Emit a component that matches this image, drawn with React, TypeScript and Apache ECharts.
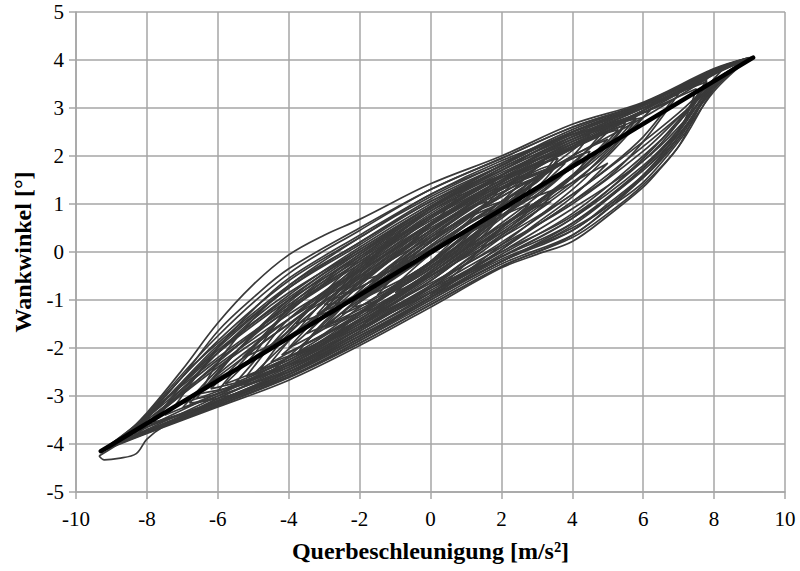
import React, { useEffect, useRef } from "react";
import * as echarts from "echarts";

const xTicks = [-10, -8, -6, -4, -2, 0, 2, 4, 6, 8, 10];
const yTicks = [-5, -4, -3, -2, -1, 0, 1, 2, 3, 4, 5];

const fitLine: number[][] = [[-9.3, -4.15], [9.1, 4.05]];

const loop1 = [[-8.9,-4.02],[-8,-3.35],[-7,-2.45],[-6,-1.48],[-5,-0.68],[-4,-0.06],[-3,0.35],[-2,0.68],[0,1.42],[2,2.0],[4,2.66],[6,3.12],[8,3.82],[9.0,4.05],[8,3.5],[7,2.6],[6,1.9],[4,0.9],[2,0.0],[0,-0.85],[-2,-1.6],[-4,-2.45],[-6,-3.1],[-8,-3.75],[-8.9,-4.02]];
const loop2 = [[-9.1,-4.1],[-8,-3.45],[-6,-2.05],[-4,-0.95],[-2,0.05],[0,0.95],[2,1.75],[4,2.45],[6,3.05],[8,3.78],[9.05,4.05],[8,3.5],[7.5,2.9],[7,2.2],[6.5,1.75],[6,1.35],[5,0.75],[4,0.22],[3,-0.05],[2,-0.33],[0,-1.15],[-2,-1.95],[-4,-2.67],[-6,-3.23],[-8,-3.78],[-9.1,-4.1]];
const loop3 = [[-8.7,-3.95],[-8,-3.4],[-6,-1.85],[-4,-0.6],[-2,0.3],[0,1.2],[2,1.85],[4,2.55],[6,3.1],[8,3.8],[8.95,4.04],[8,3.45],[7,2.35],[6,1.55],[4,0.45],[2,-0.2],[0,-1.0],[-2,-1.8],[-4,-2.55],[-6,-3.15],[-8,-3.72],[-8.7,-3.95]];
const loop4 = [[-9.3,-4.15],[-8,-3.42],[-6,-2.1],[-4,-1.0],[-2,-0.1],[0,0.85],[2,1.6],[4,2.35],[6,3.0],[8,3.75],[9.1,4.05],[8,3.55],[7,2.7],[6,2.0],[4,0.8],[2,-0.05],[0,-0.9],[-2,-1.7],[-4,-2.5],[-6,-3.12],[-8,-3.75],[-9.3,-4.15]];
const loop5 = [[-8.5,-3.85],[-7,-2.7],[-6,-1.95],[-4,-0.75],[-2,0.15],[0,1.05],[2,1.7],[4,2.4],[6,3.05],[8,3.8],[9.0,4.05],[8,3.4],[7,2.45],[6,1.7],[4,0.6],[2,-0.1],[0,-0.75],[-2,-1.5],[-4,-2.35],[-6,-3.05],[-7.5,-3.6],[-8.5,-3.85]];
const loop6 = [[-9.0,-4.05],[-8,-3.5],[-6,-2.35],[-4,-1.3],[-2,-0.4],[0,0.5],[2,1.35],[4,2.15],[6,2.9],[8,3.7],[9.05,4.05],[8,3.55],[7,2.9],[6,2.3],[4,1.2],[2,0.3],[0,-0.5],[-2,-1.3],[-4,-2.2],[-6,-3.0],[-8,-3.7],[-9.0,-4.05]];
const loop7 = [[-8.8,-4.0],[-8,-3.4],[-6,-2.2],[-4,-1.15],[-2,-0.2],[0,0.7],[2,1.5],[4,2.3],[6,2.95],[8,3.72],[9.0,4.04],[8,3.35],[7,2.3],[6,1.45],[5,0.9],[4,0.35],[2,-0.25],[0,-1.05],[-2,-1.85],[-4,-2.6],[-6,-3.2],[-8,-3.76],[-8.8,-4.0]];
const loop8 = [[-8.3,-3.8],[-7,-2.85],[-6,-2.1],[-5,-1.4],[-4,-0.85],[-2,0.05],[0,0.95],[2,1.7],[4,2.5],[6,3.08],[8,3.78],[8.9,4.03],[8,3.5],[7,2.8],[6,2.1],[4,1.0],[2,0.15],[0,-0.65],[-2,-1.45],[-4,-2.3],[-6,-2.95],[-8,-3.65],[-8.3,-3.8]];
const loop9 = [[-9.35,-4.25],[-8.5,-3.85],[-8,-3.55],[-6,-2.4],[-4,-1.4],[-2,-0.5],[0,0.45],[2,1.3],[4,2.2],[6,2.95],[8,3.75],[8.9,4.0],[8,3.45],[6,2.2],[4,1.05],[2,0.1],[0,-0.75],[-2,-1.6],[-4,-2.4],[-6,-3.05],[-7.5,-3.62],[-8.0,-3.9],[-8.3,-4.2],[-8.8,-4.3],[-9.2,-4.33],[-9.35,-4.25]];
const loop10 = [[-4.2,-2.15],[-3,-1.35],[-2,-0.6],[0,0.55],[2,1.45],[3,1.85],[4.15,2.2],[3,1.55],[2,1.0],[0,-0.2],[-2,-1.15],[-3,-1.7],[-4.2,-2.15]];
const loop11 = [[-5.5,-2.72],[-5,-2.3],[-4,-1.4],[-2,-0.3],[0,0.75],[2,1.6],[4,2.25],[5.5,2.65],[5,2.2],[4,1.6],[2,0.5],[0,-0.6],[-2,-1.5],[-4,-2.25],[-5.5,-2.72]];
const loop12 = [[-6.2,-2.85],[-5,-2.0],[-4,-1.25],[-2,-0.1],[0,0.9],[2,1.75],[4,2.4],[6.2,2.95],[5,2.1],[4,1.4],[2,0.35],[0,-0.7],[-2,-1.6],[-4,-2.4],[-6.2,-2.85]];
const loop13 = [[-3.5,-1.7],[-2,-0.65],[0,0.45],[2,1.35],[3.8,1.85],[3,1.3],[2,0.75],[0,-0.35],[-2,-1.2],[-3.5,-1.7]];
const loop14 = [[-2.5,-1.3],[-1.5,-0.55],[0,0.3],[1.5,1.05],[2.8,1.5],[2,0.85],[1,0.35],[0,-0.25],[-1.5,-0.95],[-2.5,-1.3]];
const loop15 = [[-4.8,-2.45],[-4,-1.7],[-2,-0.45],[0,0.6],[2,1.5],[4,2.2],[5,2.5],[4,1.85],[2,0.7],[0,-0.4],[-2,-1.35],[-4,-2.1],[-4.8,-2.45]];
const loop16 = [[-7,-3.25],[-6,-2.45],[-4,-1.05],[-2,0.0],[0,0.95],[2,1.8],[4,2.5],[6,3.0],[7,3.3],[6,2.3],[5,1.55],[4,1.05],[2,0.05],[0,-0.85],[-2,-1.7],[-4,-2.45],[-6,-3.0],[-7,-3.25]];
const loop17 = [[-3,-1.55],[-2,-0.8],[-1,-0.2],[0,0.35],[1,0.85],[2,1.3],[3.3,1.7],[2.5,1.15],[1,0.25],[0,-0.35],[-1,-0.8],[-2,-1.25],[-3,-1.55]];
const loop18 = [[-1.5,-0.9],[-0.5,-0.1],[0.5,0.5],[1.8,0.95],[1,0.3],[0,-0.3],[-1,-0.7],[-1.5,-0.9]];
const loop19 = [[-3.8,-1.5],[-3,-0.9],[-2,-0.25],[0,0.85],[2,1.65],[4.5,2.45],[4,2.0],[3,1.5],[2,0.95],[0,0.0],[-2,-0.95],[-3.8,-1.5]];
const loop20 = [[-4.5,-2.5],[-3,-1.55],[-2,-1.0],[0,-0.05],[2,0.85],[3.5,1.3],[3,0.85],[2,0.3],[0,-0.75],[-2,-1.65],[-3,-2.05],[-4.5,-2.5]];
const loop21 = [[-6.5,-2.95],[-6,-2.3],[-5,-1.4],[-4,-0.7],[-2,0.3],[0,1.15],[2,1.85],[4,2.45],[6,2.8],[5,2.0],[4,1.3],[2,0.15],[0,-0.95],[-2,-1.75],[-4,-2.5],[-6.5,-2.95]];
const loop22 = [[-8,-3.6],[-7,-2.9],[-6,-2.1],[-4,-0.9],[-2,0.1],[0,1.0],[2,1.8],[4,2.5],[6,3.05],[7.8,3.55],[7,2.55],[6,1.75],[4,0.55],[2,-0.2],[0,-0.95],[-2,-1.8],[-4,-2.55],[-6,-3.15],[-8,-3.6]];
const loop23 = [[-7.5,-3.4],[-6,-2.6],[-4,-1.5],[-2,-0.55],[0,0.3],[2,1.15],[4,2.0],[6,2.8],[8.3,3.85],[7.5,3.2],[7,2.75],[6,1.95],[4,0.7],[2,-0.1],[0,-0.85],[-2,-1.6],[-4,-2.35],[-6,-2.95],[-7.5,-3.4]];
const loop24 = [[-2,-1.0],[-1,-0.35],[0,0.2],[1,0.75],[2.2,1.1],[1.5,0.65],[0.5,0.05],[-0.5,-0.45],[-2,-1.0]];
const loop25 = [[-5,-2.55],[-4,-1.85],[-2,-0.65],[0,0.4],[2,1.3],[4.5,2.1],[4,1.55],[2,0.45],[0,-0.5],[-2,-1.4],[-4,-2.25],[-5,-2.55]];
const loop26 = [[-3.2,-1.3],[-2,-0.35],[0,0.75],[2,1.55],[3.6,1.95],[3,1.45],[2,1.05],[0,0.1],[-2,-0.85],[-3.2,-1.3]];
const loop27 = [[-7.2,-3.2],[-6,-2.0],[-5,-1.2],[-4,-0.55],[-2,0.35],[0,1.2],[2,1.9],[4,2.45],[5.8,2.8],[5,2.15],[4,1.55],[2,0.5],[0,-0.5],[-2,-1.45],[-4,-2.3],[-6,-2.9],[-7.2,-3.2]];
const loop28 = [[-6.8,-3.15],[-6,-2.55],[-4,-1.4],[-2,-0.35],[0,0.6],[2,1.45],[4,2.2],[6,2.9],[7.5,3.4],[7,2.5],[6,1.6],[5,0.95],[4,0.5],[2,-0.2],[0,-1.0],[-2,-1.85],[-4,-2.6],[-6,-3.05],[-6.8,-3.15]];
const loop29 = [[-8.6,-3.9],[-8,-3.38],[-6,-1.75],[-4,-0.45],[-2,0.45],[0,1.3],[2,1.95],[4,2.6],[6,3.1],[8,3.8],[9.0,4.04],[8,3.52],[7,2.5],[6,1.75],[4,0.6],[2,-0.2],[0,-0.95],[-2,-1.75],[-4,-2.5],[-6,-3.1],[-8,-3.72],[-8.6,-3.9]];
const loop30 = [[-9.1,-4.08],[-8,-3.45],[-6,-2.25],[-4,-1.2],[-2,-0.25],[0,0.65],[2,1.45],[4,2.25],[6,2.95],[8,3.72],[9.05,4.04],[8,3.48],[7,2.4],[6,1.55],[4,0.35],[2,-0.3],[0,-1.1],[-2,-1.9],[-4,-2.62],[-6,-3.2],[-8,-3.77],[-9.1,-4.08]];
const loop31 = [[-8.4,-3.85],[-7,-2.6],[-6,-1.9],[-4,-0.7],[-2,0.2],[0,1.1],[2,1.8],[4,2.5],[6,3.05],[8,3.77],[8.8,4.0],[8,3.4],[7,2.2],[6,1.4],[5,0.8],[4,0.3],[2,-0.3],[0,-1.1],[-2,-1.9],[-4,-2.6],[-6,-3.18],[-8.4,-3.85]];
const loop32 = [[-9.2,-4.12],[-8,-3.4],[-7,-2.6],[-6,-1.65],[-5,-0.95],[-4,-0.35],[-2,0.5],[0,1.3],[2,1.95],[4,2.6],[6,3.1],[8,3.8],[9.05,4.05],[8,3.5],[7,2.55],[6,1.8],[4,0.7],[2,-0.1],[0,-0.95],[-2,-1.75],[-4,-2.5],[-6,-3.15],[-8,-3.74],[-9.2,-4.12]];
const loop33 = [[-5.2,-2.6],[-4,-1.55],[-2,-0.35],[0,0.7],[2,1.55],[4,2.25],[5.3,2.55],[4.5,1.9],[4,1.55],[2,0.55],[0,-0.5],[-2,-1.45],[-4,-2.2],[-5.2,-2.6]];
const loop34 = [[-4,-2.0],[-3,-1.2],[-2,-0.5],[0,0.6],[2,1.45],[3.5,1.95],[3,1.5],[2,0.95],[0,-0.05],[-2,-1.05],[-3,-1.6],[-4,-2.0]];
const loop35 = [[-3,-1.6],[-2,-0.95],[0,0.1],[2,1.05],[3,1.55],[2.5,1.05],[1,0.25],[0,-0.25],[-2,-1.25],[-3,-1.6]];
const loop36 = [[-2,-0.6],[-1,-0.1],[0,0.55],[1,1.05],[2,1.35],[1.5,0.95],[0.5,0.4],[-1,-0.35],[-2,-0.6]];
const loop37 = [[-1,-0.85],[0,-0.2],[1,0.45],[2,0.8],[1.5,0.35],[0.5,-0.2],[-0.5,-0.65],[-1,-0.85]];
const loop38 = [[-6,-2.9],[-5,-2.05],[-4,-1.5],[-2,-0.4],[0,0.55],[2,1.4],[4,2.15],[5.8,2.75],[5,2.05],[4,1.45],[2,0.4],[0,-0.55],[-2,-1.5],[-4,-2.3],[-6,-2.9]];
const loop39 = [[-3.8,-2.15],[-3,-1.45],[-2,-0.85],[0,0.2],[2,1.15],[4,1.95],[4.3,2.05],[3.5,1.45],[2,0.6],[0,-0.45],[-2,-1.4],[-3.8,-2.15]];
const loop40 = [[-7.8,-3.55],[-7,-2.75],[-6,-2.0],[-4,-0.75],[-2,0.2],[0,1.05],[2,1.8],[4,2.5],[6,3.0],[7.8,3.6],[7,2.7],[6,1.9],[4,0.75],[2,0.0],[0,-0.8],[-2,-1.65],[-4,-2.45],[-6,-3.1],[-7.8,-3.55]];
const loop41 = [[-2.8,-1.0],[-2,-0.4],[-1,0.15],[0,0.7],[1,1.15],[2,1.55],[3.2,1.9],[2.5,1.45],[1,0.75],[0,0.25],[-1,-0.25],[-2,-0.75],[-2.8,-1.0]];
const loop42 = [[-3.5,-2.05],[-2,-1.3],[-1,-0.7],[0,-0.2],[1,0.35],[2,0.75],[2.8,1.0],[2,0.5],[1,-0.05],[0,-0.6],[-1,-1.05],[-2,-1.55],[-3.5,-2.05]];
const loop43 = [[-5.8,-2.75],[-5,-2.15],[-4,-1.15],[-3,-0.55],[-2,-0.05],[0,0.9],[2,1.7],[4,2.35],[5.5,2.7],[5,2.25],[4,1.75],[2,0.75],[0,-0.4],[-2,-1.4],[-4,-2.2],[-5.8,-2.75]];
const loop44 = [[-4.5,-2.3],[-3,-1.0],[-2,-0.3],[0,0.8],[2,1.6],[4,2.2],[4.8,2.45],[4,1.8],[3,1.2],[2,0.75],[0,-0.3],[-2,-1.3],[-3,-1.85],[-4.5,-2.3]];
const loop45 = [[-8.2,-3.7],[-7,-2.95],[-6,-2.3],[-4,-1.1],[-2,-0.15],[0,0.75],[2,1.6],[4,2.4],[6,3.0],[8,3.75],[8.95,4.03],[8,3.45],[7.5,2.95],[7,2.4],[6,1.6],[5,1.0],[4,0.45],[2,-0.15],[0,-0.95],[-2,-1.8],[-4,-2.55],[-6,-3.1],[-8.2,-3.7]];
const loop46 = [[-6.6,-3.05],[-6,-2.5],[-5,-1.75],[-4,-1.2],[-2,-0.2],[0,0.75],[2,1.6],[4,2.35],[6,2.9],[6.8,3.15],[6,2.4],[5,1.75],[4,1.2],[2,0.2],[0,-0.7],[-2,-1.55],[-4,-2.35],[-6,-2.95],[-6.6,-3.05]];
const loop47 = [[-2.2,-1.15],[-1,-0.5],[0,0.0],[1,0.55],[2.3,1.05],[1.5,0.5],[0.5,-0.05],[-0.5,-0.55],[-1.5,-1.0],[-2.2,-1.15]];
const loop48 = [[-1.2,-0.35],[0,0.4],[1,0.9],[1.6,1.05],[1,0.6],[0,0.05],[-1.2,-0.35]];
const loop49 = [[-3.6,-1.95],[-2.5,-1.15],[-1,-0.3],[0,0.3],[1.5,1.1],[3,1.7],[3.6,1.85],[3,1.35],[1.5,0.6],[0,-0.2],[-1,-0.75],[-2.5,-1.5],[-3.6,-1.95]];
const loop50 = [[-2.6,-0.9],[-1.5,-0.25],[0,0.6],[1.5,1.3],[2.6,1.7],[2,1.2],[1,0.7],[0,0.2],[-1.5,-0.55],[-2.6,-0.9]];
const loop51 = [[-1.8,-1.25],[-1,-0.7],[0,-0.05],[1,0.4],[1.8,0.6],[1,0.1],[0,-0.45],[-1,-0.95],[-1.8,-1.25]];
const loop52 = [[-4.4,-1.95],[-3,-0.85],[-2,-0.15],[-1,0.35],[0,0.9],[1,1.3],[2,1.6],[1,0.95],[0,0.45],[-1,-0.1],[-2,-0.7],[-3,-1.35],[-4.4,-1.95]];
const loop53 = [[-2,-1.6],[-1,-0.9],[0,-0.45],[1,0.1],[2,0.55],[3,0.95],[3.4,1.05],[2.5,0.6],[1.5,0.1],[0,-0.7],[-1,-1.15],[-2,-1.6]];
const loop54 = [[-5.3,-2.2],[-4,-1.2],[-3,-0.6],[-2,-0.05],[0,0.95],[1,1.35],[0,0.55],[-1,-0.05],[-2,-0.65],[-3,-1.2],[-4,-1.75],[-5.3,-2.2]];
const loop55 = [[0,-0.9],[1,-0.25],[2,0.5],[3,1.05],[4,1.45],[5,1.85],[4,1.15],[3,0.6],[2,0.05],[1,-0.45],[0,-0.9]];
const loop56 = [[-3,-1.1],[-2,-0.6],[-1,-0.05],[0,0.45],[1,0.95],[2,1.4],[2.8,1.65],[2,1.05],[1,0.55],[0,0.0],[-1,-0.5],[-2,-0.95],[-3,-1.1]];
const loop57 = [[-6.2,-2.7],[-5,-1.7],[-4,-1.0],[-3,-0.45],[-2,0.0],[-1,0.45],[-2,-0.45],[-3,-1.05],[-4,-1.65],[-5,-2.2],[-6.2,-2.7]];
const loop58 = [[1,0.1],[2,0.85],[3,1.5],[4,2.0],[5,2.35],[4,1.6],[3,1.0],[2,0.4],[1,0.1]];

const loops = [loop1, loop2, loop3, loop4, loop5, loop6, loop7, loop8, loop9, loop10, loop11, loop12, loop13, loop14, loop15, loop16, loop17, loop18, loop19, loop20, loop21, loop22, loop23, loop24, loop25, loop26, loop27, loop28, loop29, loop30, loop31, loop32, loop33, loop34, loop35, loop36, loop37, loop38, loop39, loop40, loop41, loop42, loop43, loop44, loop45, loop46, loop47, loop48, loop49, loop50, loop51, loop52, loop53, loop54, loop55, loop56, loop57, loop58];

const FONT = "Liberation Serif";

export default function App() {
  const ref = useRef<HTMLDivElement>(null);
  useEffect(() => {
    if (!ref.current) return;
    const chart = echarts.init(ref.current, undefined, { renderer: "svg" });
    const gridColor = "#a6a6a6";
    const loopSeries = loops.map((d, i) => ({
      type: "line",
      name: "loop" + (i + 1),
      data: d,
      smooth: 0.35,
      symbol: "none",
      lineStyle: { color: "#3a3a3a", width: 1.7 },
      z: 2,
    }));
    chart.setOption({
      animation: false,
      backgroundColor: "#ffffff",
      grid: { left: 76, right: 15, top: 12, bottom: 79, containLabel: false },
      xAxis: {
        type: "value",
        min: -10,
        max: 10,
        interval: 2,
        name: "Querbeschleunigung [m/s²]",
        nameLocation: "middle",
        nameGap: 47,
        nameTextStyle: { fontFamily: FONT, fontSize: 24, fontWeight: "bold", color: "#000" },
        axisLine: { show: true, onZero: false, lineStyle: { color: gridColor, width: 1.5 } },
        axisTick: { show: true, length: 7, lineStyle: { color: gridColor, width: 1.5 } },
        axisLabel: { fontFamily: FONT, fontSize: 21, color: "#000", margin: 16, formatter: (v: number) => String(v) },
        splitLine: { show: true, lineStyle: { color: gridColor, width: 1.5 } },
      },
      yAxis: {
        type: "value",
        min: -5,
        max: 5,
        interval: 1,
        name: "Wankwinkel [°]",
        nameLocation: "middle",
        nameGap: 41,
        nameRotate: 90,
        nameTextStyle: { fontFamily: FONT, fontSize: 24, fontWeight: "bold", color: "#000" },
        axisLine: { show: true, onZero: false, lineStyle: { color: gridColor, width: 1.5 } },
        axisTick: { show: true, length: 7, lineStyle: { color: gridColor, width: 1.5 } },
        axisLabel: { fontFamily: FONT, fontSize: 21, color: "#000", margin: 12, formatter: (v: number) => String(v) },
        splitLine: { show: true, lineStyle: { color: gridColor, width: 1.5 } },
      },
      series: [
        ...loopSeries,
        {
          type: "line",
          name: "fit",
          data: fitLine,
          symbol: "none",
          lineStyle: { color: "#000000", width: 4.5, cap: "round" },
          z: 5,
        },
      ],
    });
    return () => chart.dispose();
  }, []);
  return <div ref={ref} style={{ position: "absolute", left: 0, top: 0, width: 800, height: 571 }} />;
}
